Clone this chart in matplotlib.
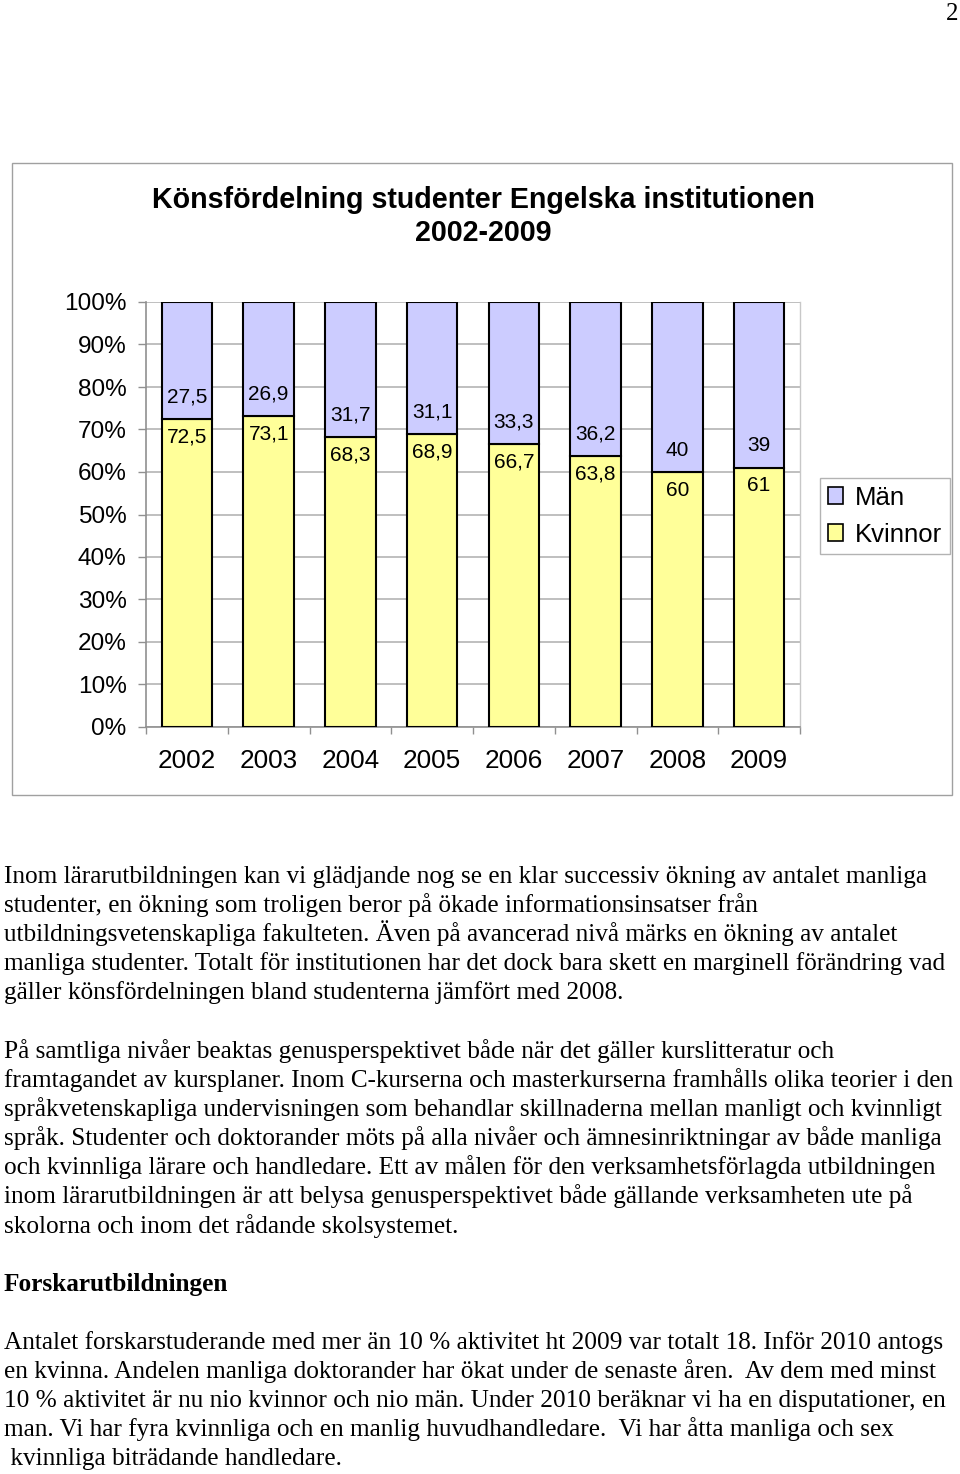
import matplotlib
matplotlib.use("Agg")
import matplotlib.pyplot as plt
from matplotlib.patches import Patch, Rectangle
import numpy as np

# ---- data ----
years = ["2002", "2003", "2004", "2005", "2006", "2007", "2008", "2009"]
kvinnor = [72.5, 73.1, 68.3, 68.9, 66.7, 63.8, 60, 61]
man = [27.5, 26.9, 31.7, 31.1, 33.3, 36.2, 40, 39]
yticks = [0, 10, 20, 30, 40, 50, 60, 70, 80, 90, 100]
title_lines = ["Könsfördelning studenter Engelska institutionen", "2002-2009"]

para1 = [
    "Inom lärarutbildningen kan vi glädjande nog se en klar successiv ökning av antalet manliga",
    "studenter, en ökning som troligen beror på ökade informationsinsatser från",
    "utbildningsvetenskapliga fakulteten. Även på avancerad nivå märks en ökning av antalet",
    "manliga studenter. Totalt för institutionen har det dock bara skett en marginell förändring vad",
    "gäller könsfördelningen bland studenterna jämfört med 2008.",
]
para2 = [
    "På samtliga nivåer beaktas genusperspektivet både när det gäller kurslitteratur och",
    "framtagandet av kursplaner. Inom C-kurserna och masterkurserna framhålls olika teorier i den",
    "språkvetenskapliga undervisningen som behandlar skillnaderna mellan manligt och kvinnligt",
    "språk. Studenter och doktorander möts på alla nivåer och ämnesinriktningar av både manliga",
    "och kvinnliga lärare och handledare. Ett av målen för den verksamhetsförlagda utbildningen",
    "inom lärarutbildningen är att belysa genusperspektivet både gällande verksamheten ute på",
    "skolorna och inom det rådande skolsystemet.",
]
heading = "Forskarutbildningen"
para3 = [
    "Antalet forskarstuderande med mer än 10 % aktivitet ht 2009 var totalt 18. Inför 2010 antogs",
    "en kvinna. Andelen manliga doktorander har ökat under de senaste åren.  Av dem med minst",
    "10 % aktivitet är nu nio kvinnor och nio män. Under 2010 beräknar vi ha en disputationer, en",
    "man. Vi har fyra kvinnliga och en manlig huvudhandledare.  Vi har åtta manliga och sex",
    " kvinnliga biträdande handledare.",
]

W, H = 960, 1474
fig = plt.figure(figsize=(W / 100, H / 100), dpi=100)
fig.patch.set_facecolor("white")

def fy(py):
    return 1 - py / H

def fx(px):
    return px / W

# chart frame
fig.patches.append(Rectangle((fx(12), fy(795)), fx(952) - fx(12), fy(163) - fy(795),
                             transform=fig.transFigure, fill=False,
                             edgecolor="#a0a0a0", linewidth=1.0))

# title
fig.text(fx(483), fy(208), title_lines[0], ha="center", va="baseline",
         fontsize=20.6, fontweight="bold", family="Liberation Sans")
fig.text(fx(483), fy(241), title_lines[1], ha="center", va="baseline",
         fontsize=20.6, fontweight="bold", family="Liberation Sans")

# axes
ax = fig.add_axes([fx(146), fy(727), fx(800) - fx(146), fy(302) - fy(727)])
x = np.arange(len(years))
bw = 0.62
c_k = "#FFFF99"
c_m = "#CCCCFF"
ax.bar(x, kvinnor, bw, color=c_k, edgecolor="black", linewidth=1.5, zorder=3)
ax.bar(x, man, bw, bottom=kvinnor, color=c_m, edgecolor="black", linewidth=1.5, zorder=3)

def fmt(v):
    return f"{v:g}".replace(".", ",")

for xi, k, m in zip(x, kvinnor, man):
    ax.annotate(fmt(m), (xi, k), xytext=(0, 22), textcoords="offset pixels",
                ha="center", va="center", fontsize=15, family="Liberation Sans", zorder=4)
    ax.annotate(fmt(k), (xi, k), xytext=(0, -18), textcoords="offset pixels",
                ha="center", va="center", fontsize=15, family="Liberation Sans", zorder=4)

ax.set_xlim(-0.5, len(years) - 0.5)
ax.set_ylim(0, 100)
ax.set_yticks(yticks)
ax.set_yticklabels([f"{t}%" for t in yticks], family="Liberation Sans", fontsize=17.6)
ax.set_xticks(x)
ax.set_xticklabels(years, family="Liberation Sans", fontsize=18.8)
ax.set_xticks(np.arange(len(years) + 1) - 0.5, minor=True)
ax.tick_params(axis="x", which="major", length=0, pad=15.5)
ax.tick_params(axis="x", which="minor", length=5, color="#909090", width=1)
ax.tick_params(axis="y", length=6, color="#909090", width=1, pad=8)
ax.yaxis.grid(True, color="#b4b4b4", linewidth=1.2)
ax.set_axisbelow(True)
for s in ["left", "bottom"]:
    ax.spines[s].set_color("#909090")
    ax.spines[s].set_linewidth(1.2)
ax.spines["right"].set_color("#c8c8c8")
ax.spines["right"].set_linewidth(1.0)
ax.spines["top"].set_visible(False)

handles = [Patch(facecolor=c_m, edgecolor="black", linewidth=1.2, label="Män"),
           Patch(facecolor=c_k, edgecolor="black", linewidth=1.2, label="Kvinnor")]
leg = fig.legend(handles=handles, loc="upper left", bbox_to_anchor=(fx(820), fy(478)),
                 bbox_transform=fig.transFigure, frameon=True, fancybox=False,
                 prop={"family": "Liberation Sans", "size": 18.5},
                 handlelength=0.6, handleheight=0.6, handletextpad=0.45,
                 borderpad=0.3, labelspacing=0.5, borderaxespad=0)
leg.get_frame().set_edgecolor("#a0a0a0")
leg.get_frame().set_linewidth(1.0)

# page number
fig.text(fx(958), fy(20), "2", ha="right", va="baseline", fontsize=18, family="Liberation Serif")

# body text
body_fs = 18.2
def lines(lst, y0, step=29.1, bold=False):
    for i, s in enumerate(lst):
        fig.text(fx(4), fy(y0 + i * step), s, ha="left", va="baseline",
                 fontsize=body_fs, family="Liberation Serif",
                 fontweight="bold" if bold else "normal")

lines(para1, 883)
lines(para2, 1058)
lines([heading], 1291, bold=True)
lines(para3, 1349)

fig.savefig("out.png", dpi=100)
